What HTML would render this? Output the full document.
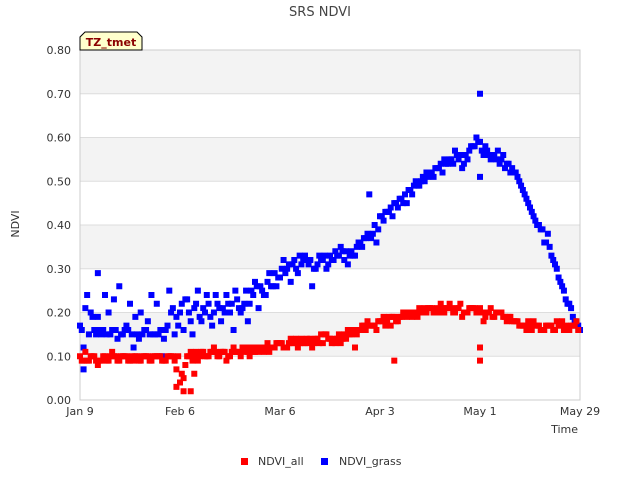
<!DOCTYPE html>
<html><head><meta charset="utf-8"><style>
body{margin:0;background:#fff;font-family:"Liberation Sans","DejaVu Sans",sans-serif}
svg text{font-family:"DejaVu Sans","Liberation Sans",sans-serif}
</style></head><body>
<svg id="chart" width="640" height="480" xmlns="http://www.w3.org/2000/svg">
<text x="320" y="16" text-anchor="middle" font-size="13" fill="#444">SRS NDVI</text>
<g id="bands"></g>
<g id="grid"></g>
<rect x="80" y="50" width="500" height="350" fill="none" stroke="#ccc"/>
<g id="yticks"></g><g id="xticks"></g>
<text x="19" y="224" font-size="11" fill="#333" text-anchor="middle" transform="rotate(-90 19 224)">NDVI</text>
<text x="578" y="433" font-size="11" fill="#333" text-anchor="end">Time</text>
<g id="marks"></g>
<g>
<path d="M80,50 L80,37 L85,32 L137,32 L142,37 L142,50 Z" fill="#ffffcc" stroke="#000" stroke-width="1"/>
<text x="111" y="46" text-anchor="middle" font-size="11" font-weight="bold" fill="#8b0000">TZ_tmet</text>
</g>
<g>
<rect x="241" y="458" width="7" height="7" fill="#f00"/>
<text x="258" y="465" font-size="11" fill="#333">NDVI_all</text>
<rect x="321" y="458" width="7" height="7" fill="#00f"/>
<text x="339" y="465" font-size="11" fill="#333">NDVI_grass</text>
</g>
</svg>
<script>
const yTicks=[0,0.1,0.2,0.3,0.4,0.5,0.6,0.7,0.8];
const xTickLabels=["Jan 9","Feb 6","Mar 6","Apr 3","May 1","May 29"];
const xTickDays=[0,28,56,84,112,140];
const blueA=[0.17,0.24,0.16,0.15,0.20,0.16,0.15,0.22,0.15,0.16,0.24,0.15,0.16,0.21,
0.20,0.23,0.21,0.18,0.22,0.24,0.21,0.20,0.23,0.22,0.25,0.21,0.24,0.26,
0.28,0.30,0.32,0.31,0.31,0.30,0.32,0.33,0.33,0.32,0.34,0.36,0.37,0.38,
0.42,0.43,0.45,0.46,0.48,0.50,0.51,0.52,0.53,0.55,0.55,0.55,0.56,0.58,
0.59,0.57,0.56,0.55,0.54,0.52,0.48,0.44,0.40,0.36,0.33,0.28,0.23,0.19];
const blueB=[0.12,0.20,0.19,0.24,0.16,0.26,0.17,0.12,0.20,0.18,0.15,0.10,0.25,0.19,
0.16,0.18,0.25,0.20,0.17,0.21,0.24,0.16,0.20,0.18,0.27,0.25,0.29,0.26,
0.32,0.27,0.29,0.33,0.26,0.33,0.30,0.32,0.35,0.31,0.33,0.35,0.47,0.36,
0.41,0.44,0.44,0.47,0.47,0.49,0.52,0.51,0.54,0.54,0.57,0.53,0.57,0.60,
0.56,0.55,0.57,0.53,0.53,0.50,0.46,0.42,0.39,0.38,0.31,0.26,0.22,0.17];
const blueC=[0.16,0.15,0.15,0.16,0.15,0.14,0.16,0.15,0.14,0.16,0.15,0.16,0.17,0.15,
0.22,0.20,0.22,0.21,0.19,0.22,0.20,0.22,0.21,0.25,0.24,0.26,0.27,0.29,
0.30,0.31,0.30,0.32,0.32,0.31,0.33,0.32,0.33,0.34,0.33,0.36,0.38,0.40,
0.42,0.43,0.45,0.45,0.48,0.49,0.50,0.52,0.53,0.54,0.54,0.56,0.55,0.58,
0.57,0.56,0.55,0.56,0.52,0.51,0.47,0.43,0.40,0.36,0.32,0.27,0.22,0.18];
const blueD=[0.21,0.19,0.16,0.15,0.23,0.15,0.16,0.19,0.15,0.15,0.22,0.14,0.20,0.17,
0.23,0.15,0.19,0.24,0.20,0.18,0.22,0.25,0.21,0.22,0.26,0.24,0.26,0.28,
0.29,0.31,0.33,0.32,0.30,0.32,0.31,0.34,0.34,0.33,0.35,0.37,0.37,0.39,
0.43,0.42,0.46,0.45,0.49,0.50,0.51,0.53,0.52,0.55,0.56,0.54,0.58,0.59,
0.58,0.56,0.54,0.54,0.52,0.49,0.45,0.41,0.39,0.35,0.30,0.25,0.21,0.17];
const redA=[0.10,0.09,0.10,0.09,0.09,0.10,0.10,0.09,0.10,0.10,0.09,0.10,0.09,0.10,
0.04,0.10,0.10,0.11,0.10,0.11,0.11,0.10,0.11,0.11,0.12,0.11,0.12,0.12,
0.13,0.12,0.13,0.14,0.13,0.14,0.13,0.14,0.14,0.15,0.15,0.16,0.16,0.17,
0.18,0.18,0.19,0.19,0.20,0.20,0.20,0.21,0.21,0.20,0.21,0.21,0.20,0.21,
0.21,0.20,0.19,0.20,0.19,0.18,0.17,0.17,0.17,0.16,0.17,0.17,0.17,0.17];
const redB=[0.09,0.10,0.08,0.10,0.11,0.09,0.10,0.09,0.09,0.10,0.10,0.09,0.10,0.07,
0.02,0.11,0.09,0.10,0.11,0.10,0.09,0.12,0.10,0.11,0.11,0.12,0.11,0.13,
0.12,0.14,0.12,0.13,0.12,0.13,0.15,0.14,0.13,0.16,0.12,0.17,0.17,0.16,
0.19,0.17,0.18,0.20,0.19,0.21,0.20,0.20,0.22,0.21,0.20,0.19,0.21,0.20,
0.18,0.21,0.20,0.19,0.18,0.17,0.16,0.18,0.16,0.17,0.16,0.18,0.16,0.18];
const redC=[0.09,0.09,0.09,0.10,0.10,0.09,0.10,0.10,0.09,0.10,0.10,0.10,0.10,0.09,
0.06,0.10,0.11,0.11,0.11,0.10,0.11,0.11,0.11,0.12,0.11,0.12,0.13,0.12,
0.13,0.13,0.14,0.13,0.14,0.14,0.15,0.13,0.15,0.14,0.16,0.16,0.18,0.17,
0.18,0.19,0.18,0.20,0.20,0.19,0.21,0.21,0.20,0.21,0.20,0.22,0.20,0.21,
0.20,0.20,0.20,0.19,0.19,0.18,0.17,0.16,0.17,0.17,0.16,0.17,0.16,0.17];
const redD=[0.11,0.10,0.09,0.09,0.10,0.10,0.09,0.10,0.10,0.09,0.10,0.09,0.10,0.10,
0.08,0.09,0.10,0.10,0.12,0.11,0.10,0.11,0.12,0.10,0.12,0.11,0.12,0.13,
0.12,0.13,0.13,0.14,0.13,0.15,0.14,0.13,0.14,0.15,0.15,0.17,0.17,0.18,
0.17,0.19,0.19,0.19,0.20,0.20,0.21,0.20,0.21,0.22,0.21,0.20,0.21,0.20,
0.19,0.19,0.20,0.18,0.18,0.17,0.18,0.17,0.16,0.17,0.18,0.16,0.17,0.16];
const blueOutDays=[112,112,140,1,5];
const blueOut=[0.70,0.51,0.16,0.07,0.29];
const redOutDays=[27,29,31,32,112,112,88];
const redOut=[0.03,0.05,0.02,0.06,0.09,0.12,0.09];
const NS="http://www.w3.org/2000/svg";
const X=d=>80+d*500/140, Y=v=>400-v*350/0.8;
function mk(tag,attrs,parent){const e=document.createElementNS(NS,tag);for(const k in attrs)e.setAttribute(k,attrs[k]);parent.appendChild(e);return e;}
const bands=document.getElementById('bands'),grid=document.getElementById('grid'),yt=document.getElementById('yticks'),xt=document.getElementById('xticks'),marks=document.getElementById('marks');
for(let i=1;i<yTicks.length;i+=2){const r=mk('rect',{x:80,y:Y(yTicks[i]+0.1),width:500,height:Y(yTicks[i])-Y(yTicks[i]+0.1),fill:'#f3f3f3'},bands);

}
yTicks.forEach(v=>{const l=mk('line',{x1:80,x2:580,y1:Y(v),y2:Y(v),stroke:'#ddd'},grid);


const t=mk('text',{x:71,y:Y(v)+4,'text-anchor':'end','font-size':11,fill:'#333'},yt);t.textContent=v.toFixed(2);

});
xTickDays.forEach((d,i)=>{const t=mk('text',{x:X(d),y:415,'text-anchor':'middle','font-size':11,fill:'#333'},xt);t.textContent=xTickLabels[i];

});
function pt(d,v,c,n){const r=mk('rect',{x:X(d)-3,y:Y(v)-3,width:6,height:6,fill:c},marks);

}
blueA.forEach((v,i)=>pt(2*i,v,'#00f','point-ndvi-grass'));
blueB.forEach((v,i)=>pt(2*i+1,v,'#00f','point-ndvi-grass'));
blueC.forEach((v,i)=>pt(2*i+0.5,v,'#00f','point-ndvi-grass'));
blueD.forEach((v,i)=>pt(2*i+1.5,v,'#00f','point-ndvi-grass'));
blueOut.forEach((v,i)=>pt(blueOutDays[i],v,'#00f','point-ndvi-grass'));
redA.forEach((v,i)=>pt(2*i,v,'#f00','point-ndvi-all'));
redB.forEach((v,i)=>pt(2*i+1,v,'#f00','point-ndvi-all'));
redC.forEach((v,i)=>pt(2*i+0.5,v,'#f00','point-ndvi-all'));
redD.forEach((v,i)=>pt(2*i+1.5,v,'#f00','point-ndvi-all'));
redOut.forEach((v,i)=>pt(redOutDays[i],v,'#f00','point-ndvi-all'));
</script>
</body></html>
